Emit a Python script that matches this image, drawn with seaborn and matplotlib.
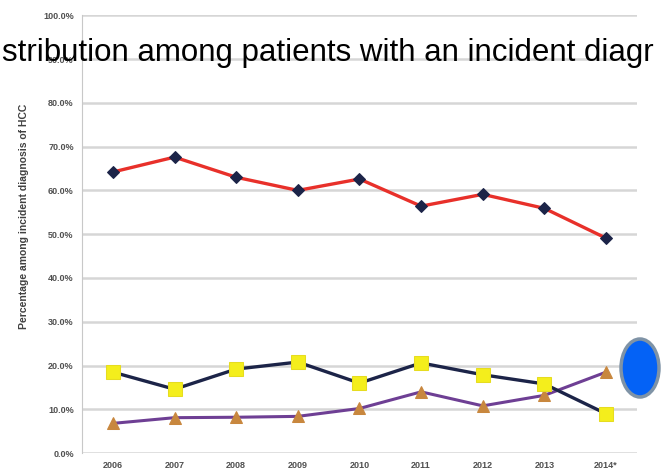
import pandas as pd
import matplotlib.pyplot as plt
import seaborn as sns
from matplotlib.patches import Ellipse
from matplotlib.ticker import PercentFormatter

years = ['2006', '2007', '2008', '2009', '2010', '2011', '2012', '2013', '2014*']
pct_diamond = [64.2, 67.6, 63.0, 60.0, 62.6, 56.4, 59.1, 55.9, 49.1]
pct_square = [18.5, 14.6, 19.2, 20.8, 16.0, 20.6, 17.9, 15.8, 9.0]
pct_triangle = [6.8, 8.1, 8.2, 8.4, 10.2, 14.0, 10.8, 13.2, 18.5]

df = pd.DataFrame({'year': years, 'diamond': pct_diamond,
                   'square': pct_square, 'triangle': pct_triangle})

sns.set_style('white')
plt.rcParams['font.family'] = ['Liberation Sans', 'DejaVu Sans']

fig = plt.figure(figsize=(6.62, 4.76), dpi=100)
ax = fig.add_axes([0.124, 0.048, 0.838, 0.920])

sns.lineplot(data=df, x='year', y='diamond', ax=ax, color='#e8302a', lw=2.4,
             marker='D', markersize=6.5, markerfacecolor='#1c2448',
             markeredgecolor='#1c2448', sort=False)
sns.lineplot(data=df, x='year', y='triangle', ax=ax, color='#6e3f94', lw=2.2,
             marker='^', markersize=9, markerfacecolor='#c8873e',
             markeredgecolor='#c8873e', sort=False)
sns.lineplot(data=df, x='year', y='square', ax=ax, color='#1c2448', lw=2.4,
             marker='s', markersize=10, markerfacecolor='#f4ee1c',
             markeredgecolor='#e6dc20', sort=False)

ax.set_ylim(0, 100)
ax.set_xlim(-0.5, len(years) - 0.5)
ax.set_yticks(range(0, 101, 10))
ax.yaxis.set_major_formatter(PercentFormatter(decimals=1))
ax.grid(axis='y', color='#d6d6d6', lw=1.8)
ax.set_axisbelow(True)
for side in ['top', 'right', 'bottom']:
    ax.spines[side].set_visible(False)
ax.spines['left'].set_color('#c8c8c8')
ax.tick_params(axis='both', length=0, labelsize=6.5, labelcolor='#505050', pad=6)
for lab in ax.get_xticklabels() + ax.get_yticklabels():
    lab.set_fontweight('bold')
ax.set_xlabel('')
ax.set_ylabel('Percentage among incident diagnosis of HCC', fontsize=7.5,
              fontweight='bold', color='#404040', labelpad=12)
ax.yaxis.set_label_coords(-0.095, 0.54)

fig.text(0.003, 0.872, 'stribution among patients with an incident diagr',
         fontsize=22.5, color='black', ha='left', va='baseline',
         family=['Liberation Sans Narrow', 'Liberation Sans'])

blob = Ellipse((640 / 662, 1 - 368 / 476), 38 / 662, 58 / 476,
               transform=fig.transFigure, facecolor='#0462f6',
               edgecolor='#7f93a6', lw=2.5, clip_on=False)
fig.patches.append(blob)

plt.savefig('out.png', dpi=100)
plt.close(fig)
